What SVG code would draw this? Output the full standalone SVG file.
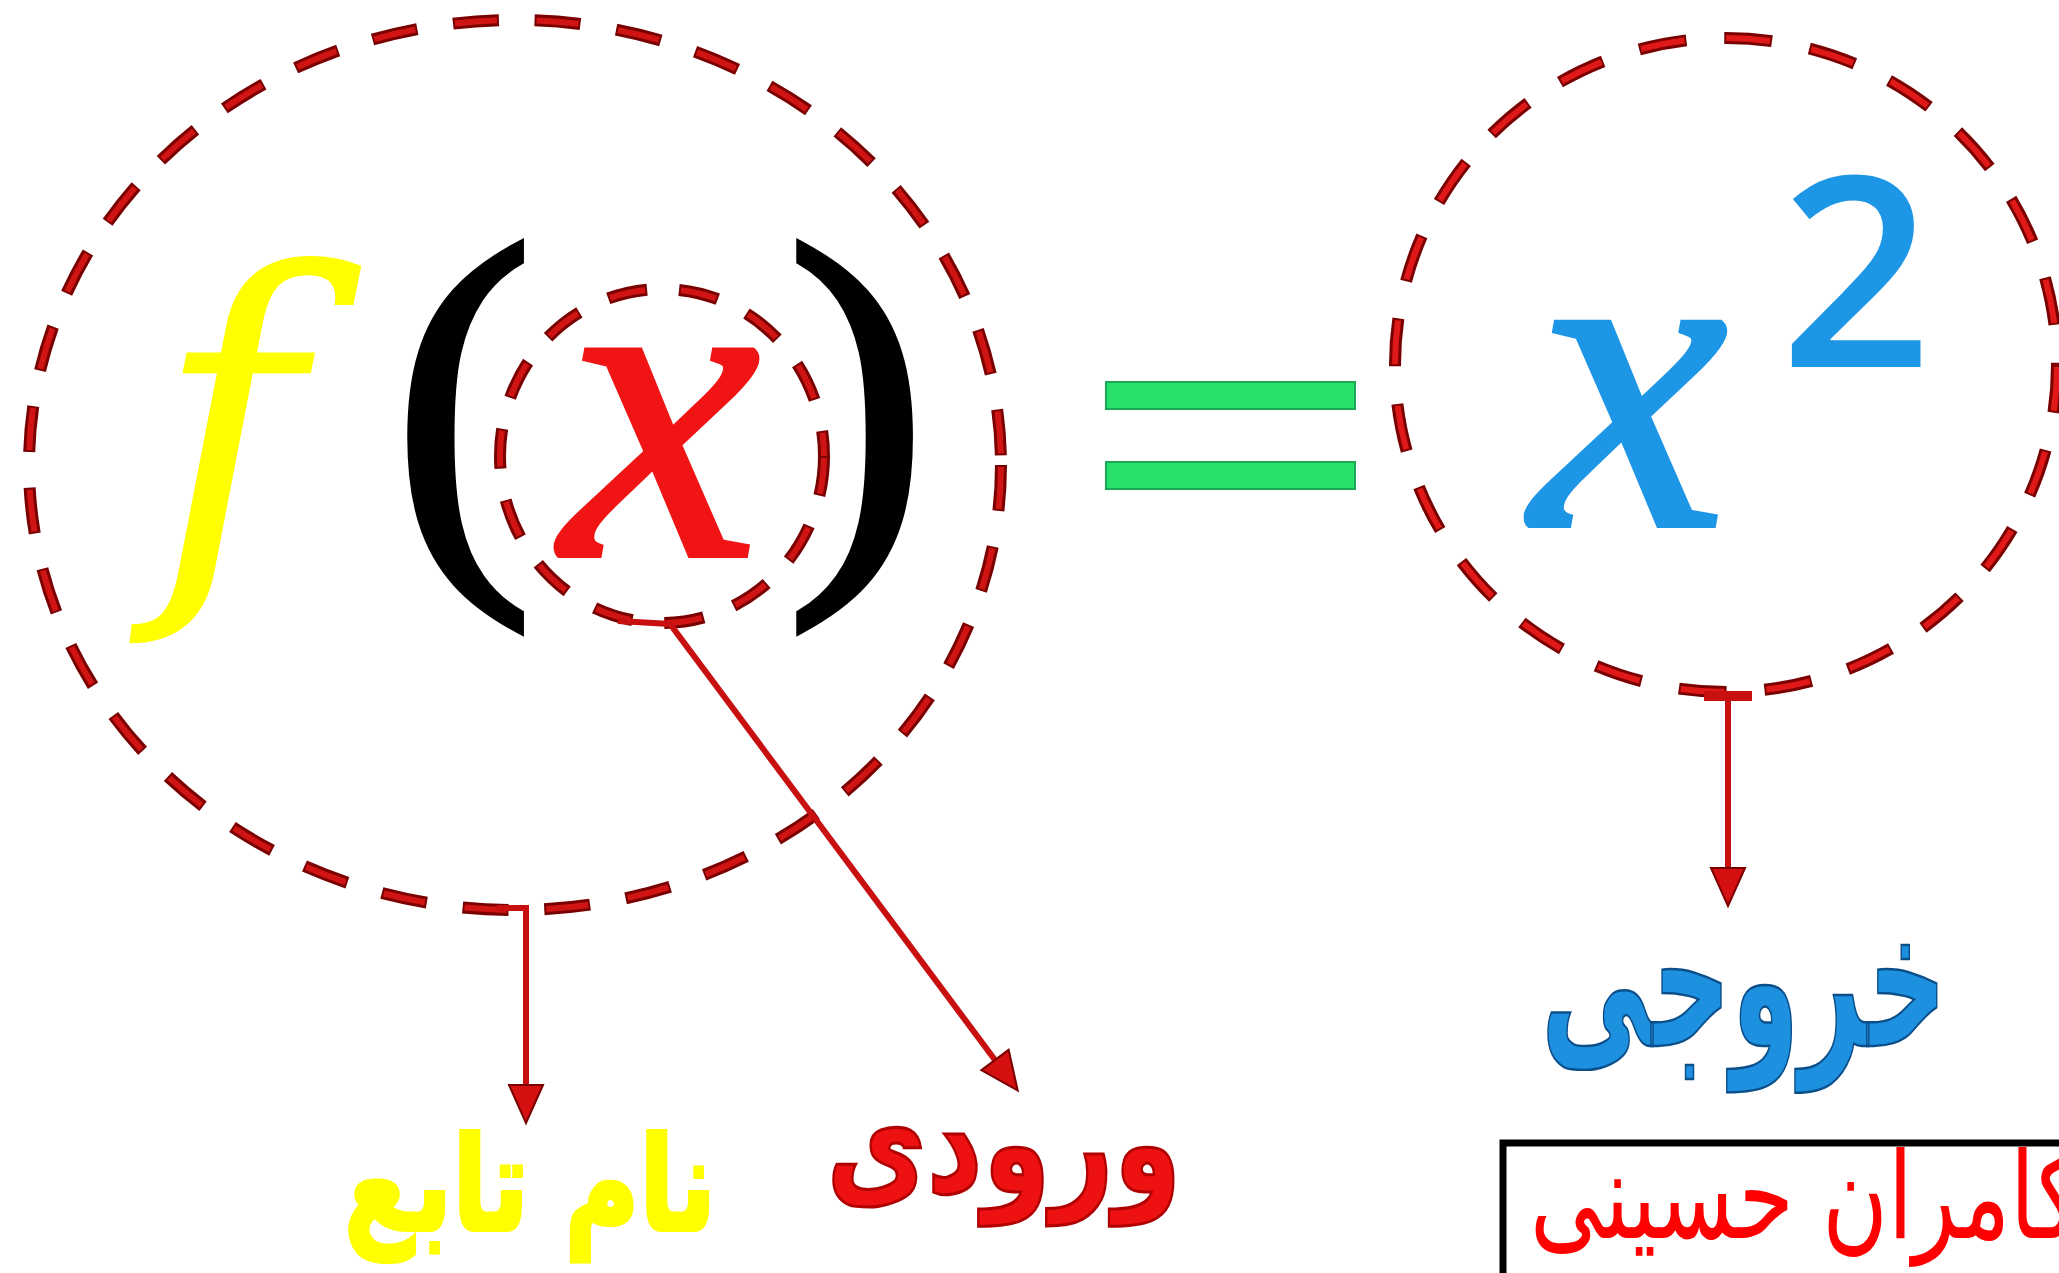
<svg xmlns="http://www.w3.org/2000/svg" width="2059" height="1273" viewBox="0 0 2059 1273">
<defs>
<style>
.dashO{fill:none;stroke:#7a0000;stroke-width:12}
.dashI{fill:none;stroke:#d01414;stroke-width:6}
.math{font-family:"Liberation Serif","Times New Roman",serif;font-style:italic;stroke-width:4}
.par{font-family:"Liberation Serif","Times New Roman",serif;fill:#000;stroke:#000;stroke-width:7}
.lbl{font-family:"DejaVu Sans",sans-serif;font-weight:bold;text-anchor:middle}
.conn{fill:none;stroke:#c81010;stroke-width:6}
</style>
<marker id="ah" markerUnits="userSpaceOnUse" markerWidth="44" markerHeight="44" viewBox="0 -22 44 44" refX="0" refY="0" orient="auto" overflow="visible">
<path d="M0,-17 L38,0 L0,17 Z" fill="#d41010" stroke="#7a0000" stroke-width="2"/>
</marker>
</defs>
<rect width="2059" height="1273" fill="#fff"/>

<g id="function-name-circle">
<ellipse class="dashO" cx="515" cy="465" rx="486" ry="445" stroke-dasharray="46 36"/>
<ellipse class="dashI" cx="515" cy="465" rx="486" ry="445" stroke-dasharray="42 40" stroke-dashoffset="-2"/>
<text x="154" y="560" font-family="'DejaVu Serif',serif" font-style="italic" font-size="400" fill="#ffff00">f</text>
<text class="par" x="392" y="540" font-size="427">(</text>
<text class="par" x="786" y="540" font-size="427">)</text>
</g>

<g id="input-circle">
<ellipse class="dashO" cx="662" cy="456" rx="162" ry="167" stroke-dasharray="40 32"/>
<ellipse class="dashI" cx="662" cy="456" rx="162" ry="167" stroke-dasharray="36 36" stroke-dashoffset="-2"/>
<text class="math" x="561" y="556" font-size="450" fill="#f01414" stroke="#f01414">x</text>
</g>

<g id="equals">
<rect x="1106" y="382" width="249" height="27" fill="#28e06c" stroke="#1aa852" stroke-width="2"/>
<rect x="1106" y="462" width="249" height="27" fill="#28e06c" stroke="#1aa852" stroke-width="2"/>
</g>

<g id="output-circle">
<ellipse class="dashO" cx="1726" cy="365" rx="331" ry="327" stroke-dasharray="48 38"/>
<ellipse class="dashI" cx="1726" cy="365" rx="331" ry="327" stroke-dasharray="44 42" stroke-dashoffset="-2" style="stroke:#e01818"/>
<text class="math" x="1531" y="526" font-size="445" fill="#1e96e6" stroke="#1e96e6">x</text>
<text x="1780" y="367" font-family="'Open Sans','Noto Sans',sans-serif" font-weight="600" font-size="266" fill="#1e96e6">2</text>
</g>

<g id="connectors">
<path class="conn" d="M497,908 H526 V1085" marker-end="url(#ah)"/>
<path class="conn" d="M618,621 L670,624 L995,1060" marker-end="url(#ah)"/>
<path d="M1704,696 H1752" stroke="#c81010" stroke-width="10" fill="none"/>
<path class="conn" d="M1728,696 V868" marker-end="url(#ah)"/>
</g>

<g id="label-function-name">
<text class="lbl" x="530" y="1230" font-size="130" fill="#ffff00" stroke="#ffff00" stroke-width="4" textLength="372" lengthAdjust="spacingAndGlyphs">نام تابع</text>
</g>
<g id="label-input">
<text class="lbl" x="1004" y="1192" font-size="140" fill="#ee1111" stroke="#b00000" stroke-width="3" textLength="355" lengthAdjust="spacingAndGlyphs">ورودی</text>
</g>
<g id="label-output">
<g transform="translate(1744,1046) scale(1,1.52)">
<text class="lbl" x="0" y="0" font-size="125" fill="#1e90e0" stroke="#0b4f8a" stroke-width="1.6" textLength="406" lengthAdjust="spacingAndGlyphs">خروجی</text>
</g>
</g>

<g id="author-box">
<rect x="1503" y="1143" width="600" height="200" fill="#fff" stroke="#000" stroke-width="7"/>
<g transform="translate(1530,1238) scale(1,1.2)">
<text x="0" y="0" font-family="'DejaVu Sans',sans-serif" font-size="100" fill="#ff0000" textLength="550" lengthAdjust="spacingAndGlyphs">کامران حسینی</text>
</g>
</g>
</svg>
